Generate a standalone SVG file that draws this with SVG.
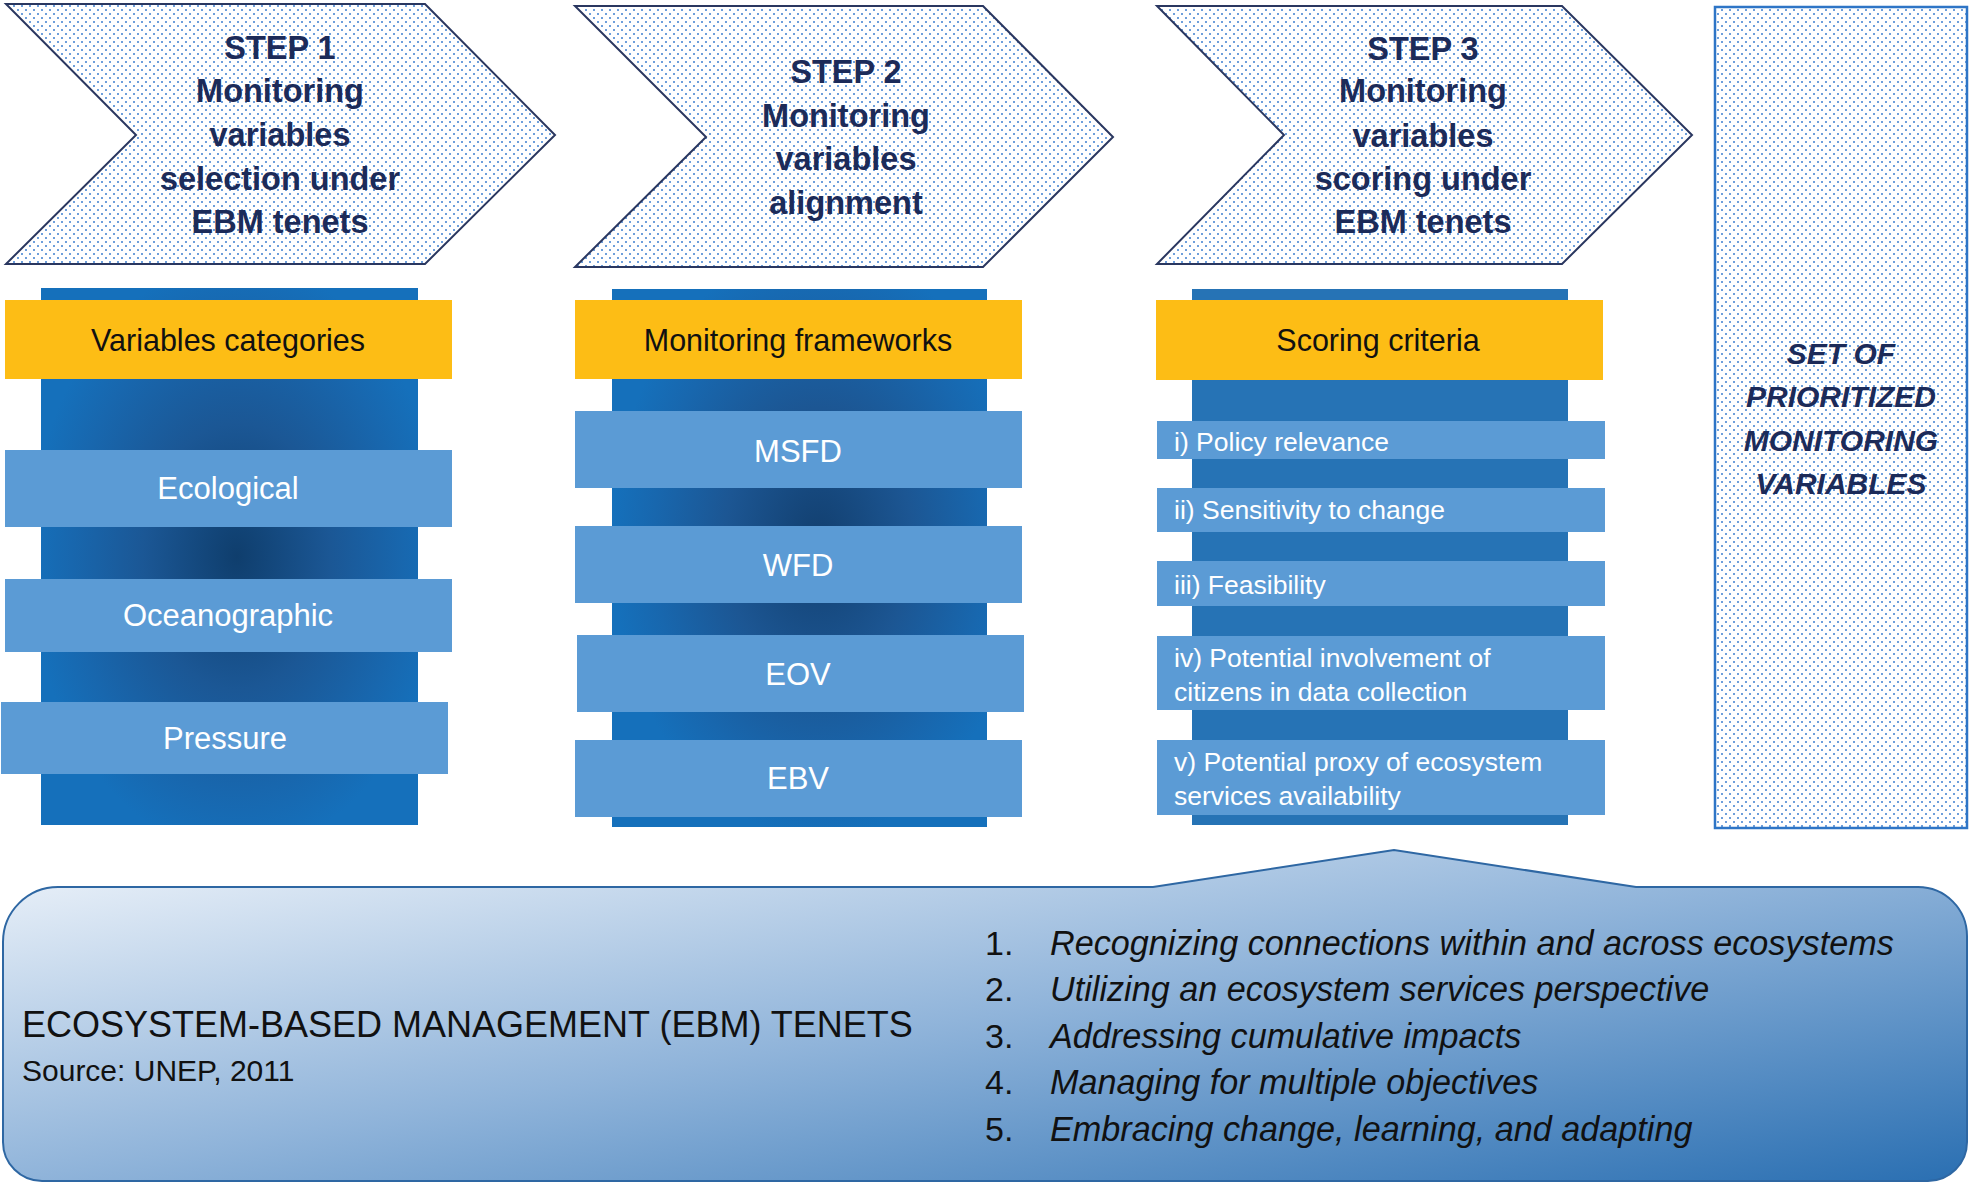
<svg xmlns="http://www.w3.org/2000/svg" width="1969" height="1183" viewBox="0 0 1969 1183">
<defs>
<pattern id="dots" width="8" height="8" patternUnits="userSpaceOnUse">
<rect width="8" height="8" fill="#ffffff"/>
<circle cx="2" cy="2" r="1" fill="#3d7fd0"/>
<circle cx="6" cy="6" r="1" fill="#3d7fd0"/>
</pattern>
<radialGradient id="col1" cx="0.52" cy="0.5" r="0.55">
<stop offset="0" stop-color="#0f3e6d"/>
<stop offset="0.45" stop-color="#1b5795"/>
<stop offset="0.8" stop-color="#1867ae"/>
<stop offset="1" stop-color="#1570bb"/>
</radialGradient>
<radialGradient id="col2" cx="0.55" cy="0.47" r="0.55">
<stop offset="0" stop-color="#123f6f"/>
<stop offset="0.45" stop-color="#1c5693"/>
<stop offset="0.8" stop-color="#1867ae"/>
<stop offset="1" stop-color="#1570bb"/>
</radialGradient>
<linearGradient id="panel" x1="0" y1="0" x2="1" y2="1">
<stop offset="0" stop-color="#f0f5fb"/>
<stop offset="0.5" stop-color="#90b4da"/>
<stop offset="1" stop-color="#2a6fb2"/>
</linearGradient>
<style>
.chev{fill:url(#dots);stroke:#2a3760;stroke-width:2}
.step{font-family:"Liberation Sans",Arial,sans-serif;font-weight:bold;font-size:32.5px;fill:#1c2b59;text-anchor:middle}
.final{font-family:"Liberation Sans",Arial,sans-serif;font-weight:bold;font-style:italic;font-size:30px;fill:#1c2b59;text-anchor:middle}
.yel{fill:#fdbd15}
.ytxt{font-family:"Liberation Sans",Arial,sans-serif;font-size:30.5px;fill:#111111;text-anchor:middle}
.lb{fill:#5b9bd5}
.btxt{font-family:"Liberation Sans",Arial,sans-serif;font-size:31px;fill:#ffffff;text-anchor:middle}
.ctxt{font-family:"Liberation Sans",Arial,sans-serif;font-size:26.5px;fill:#ffffff}
.ptitle{font-family:"Liberation Sans",Arial,sans-serif;font-size:36px;fill:#111111}
.psrc{font-family:"Liberation Sans",Arial,sans-serif;font-size:30px;fill:#111111}
.list{font-family:"Liberation Sans",Arial,sans-serif;font-size:34.2px;fill:#111111;font-style:italic}
.num{font-family:"Liberation Sans",Arial,sans-serif;font-size:34px;fill:#111111}
</style>
</defs>
<rect width="1969" height="1183" fill="#ffffff"/>

<g id="step1">
<polygon class="chev" points="6,4 425,4 555,135 425,264 6,264 136,135"/>
<text class="step" x="280" y="59">STEP 1</text>
<text class="step" x="280" y="102">Monitoring</text>
<text class="step" x="280" y="146">variables</text>
<text class="step" x="280" y="190">selection under</text>
<text class="step" x="280" y="233">EBM tenets</text>
</g>

<g id="step2">
<polygon class="chev" points="575,6 983,6 1113,137 983,267 575,267 706,137"/>
<text class="step" x="846" y="83">STEP 2</text>
<text class="step" x="846" y="127">Monitoring</text>
<text class="step" x="846" y="170">variables</text>
<text class="step" x="846" y="214">alignment</text>
</g>

<g id="step3">
<polygon class="chev" points="1157,6 1562,6 1692,135 1562,264 1157,264 1284,135"/>
<text class="step" x="1423" y="60">STEP 3</text>
<text class="step" x="1423" y="102">Monitoring</text>
<text class="step" x="1423" y="147">variables</text>
<text class="step" x="1423" y="190">scoring under</text>
<text class="step" x="1423" y="233">EBM tenets</text>
</g>

<g id="result">
<rect x="1715" y="7" width="252" height="821" fill="url(#dots)" stroke="#2e75c6" stroke-width="2.5"/>
<text class="final" x="1841" y="364">SET OF</text>
<text class="final" x="1841" y="407">PRIORITIZED</text>
<text class="final" x="1841" y="451">MONITORING</text>
<text class="final" x="1841" y="494">VARIABLES</text>
</g>

<g id="column1">
<rect x="41" y="288" width="377" height="537" fill="url(#col1)"/>
<rect class="yel" x="5" y="300" width="447" height="79"/>
<text class="ytxt" x="228" y="351">Variables categories</text>
<rect class="lb" x="5" y="450" width="447" height="77"/>
<text class="btxt" x="228" y="499">Ecological</text>
<rect class="lb" x="5" y="579" width="447" height="73"/>
<text class="btxt" x="228" y="626">Oceanographic</text>
<rect class="lb" x="1" y="702" width="447" height="72"/>
<text class="btxt" x="225" y="749">Pressure</text>
</g>

<g id="column2">
<rect x="612" y="289" width="375" height="538" fill="url(#col2)"/>
<rect class="yel" x="575" y="300" width="447" height="79"/>
<text class="ytxt" x="798" y="351">Monitoring frameworks</text>
<rect class="lb" x="575" y="411" width="447" height="77"/>
<text class="btxt" x="798" y="462">MSFD</text>
<rect class="lb" x="575" y="526" width="447" height="77"/>
<text class="btxt" x="798" y="576">WFD</text>
<rect class="lb" x="577" y="635" width="447" height="77"/>
<text class="btxt" x="798" y="685">EOV</text>
<rect class="lb" x="575" y="740" width="447" height="77"/>
<text class="btxt" x="798" y="789">EBV</text>
</g>

<g id="column3">
<rect x="1192" y="289" width="376" height="536" fill="#2673b5"/>
<rect class="yel" x="1156" y="300" width="447" height="80"/>
<text class="ytxt" x="1378" y="351">Scoring criteria</text>
<rect class="lb" x="1157" y="421" width="448" height="38"/>
<text class="ctxt" x="1174" y="451">i) Policy relevance</text>
<rect class="lb" x="1157" y="488" width="448" height="44"/>
<text class="ctxt" x="1174" y="519">ii) Sensitivity to change</text>
<rect class="lb" x="1157" y="561" width="448" height="45"/>
<text class="ctxt" x="1174" y="594">iii) Feasibility</text>
<rect class="lb" x="1157" y="636" width="448" height="74"/>
<text class="ctxt" x="1174" y="667">iv) Potential involvement of</text>
<text class="ctxt" x="1174" y="701">citizens in data collection</text>
<rect class="lb" x="1157" y="740" width="448" height="75"/>
<text class="ctxt" x="1174" y="771">v) Potential proxy of ecosystem</text>
<text class="ctxt" x="1174" y="805">services availability</text>
</g>

<g id="ebm-panel">
<path d="M3,942 A55,55 0 0 1 58,887 L1153,887 L1394,850 L1636,887 L1918,887 A49,49 0 0 1 1967,936 L1967,1142 A39,39 0 0 1 1928,1181 L42,1181 A39,39 0 0 1 3,1142 Z" fill="url(#panel)" stroke="#2e67a3" stroke-width="2"/>
<text class="ptitle" x="22" y="1037">ECOSYSTEM-BASED MANAGEMENT (EBM) TENETS</text>
<text class="psrc" x="22" y="1081">Source: UNEP, 2011</text>
<text class="num" x="985" y="955">1.</text>
<text class="list" x="1050" y="955">Recognizing connections within and across ecosystems</text>
<text class="num" x="985" y="1001">2.</text>
<text class="list" x="1050" y="1001">Utilizing an ecosystem services perspective</text>
<text class="num" x="985" y="1048">3.</text>
<text class="list" x="1050" y="1048">Addressing cumulative impacts</text>
<text class="num" x="985" y="1094">4.</text>
<text class="list" x="1050" y="1094">Managing for multiple objectives</text>
<text class="num" x="985" y="1141">5.</text>
<text class="list" x="1050" y="1141">Embracing change, learning, and adapting</text>
</g>

<g id="connectors"></g>
</svg>
